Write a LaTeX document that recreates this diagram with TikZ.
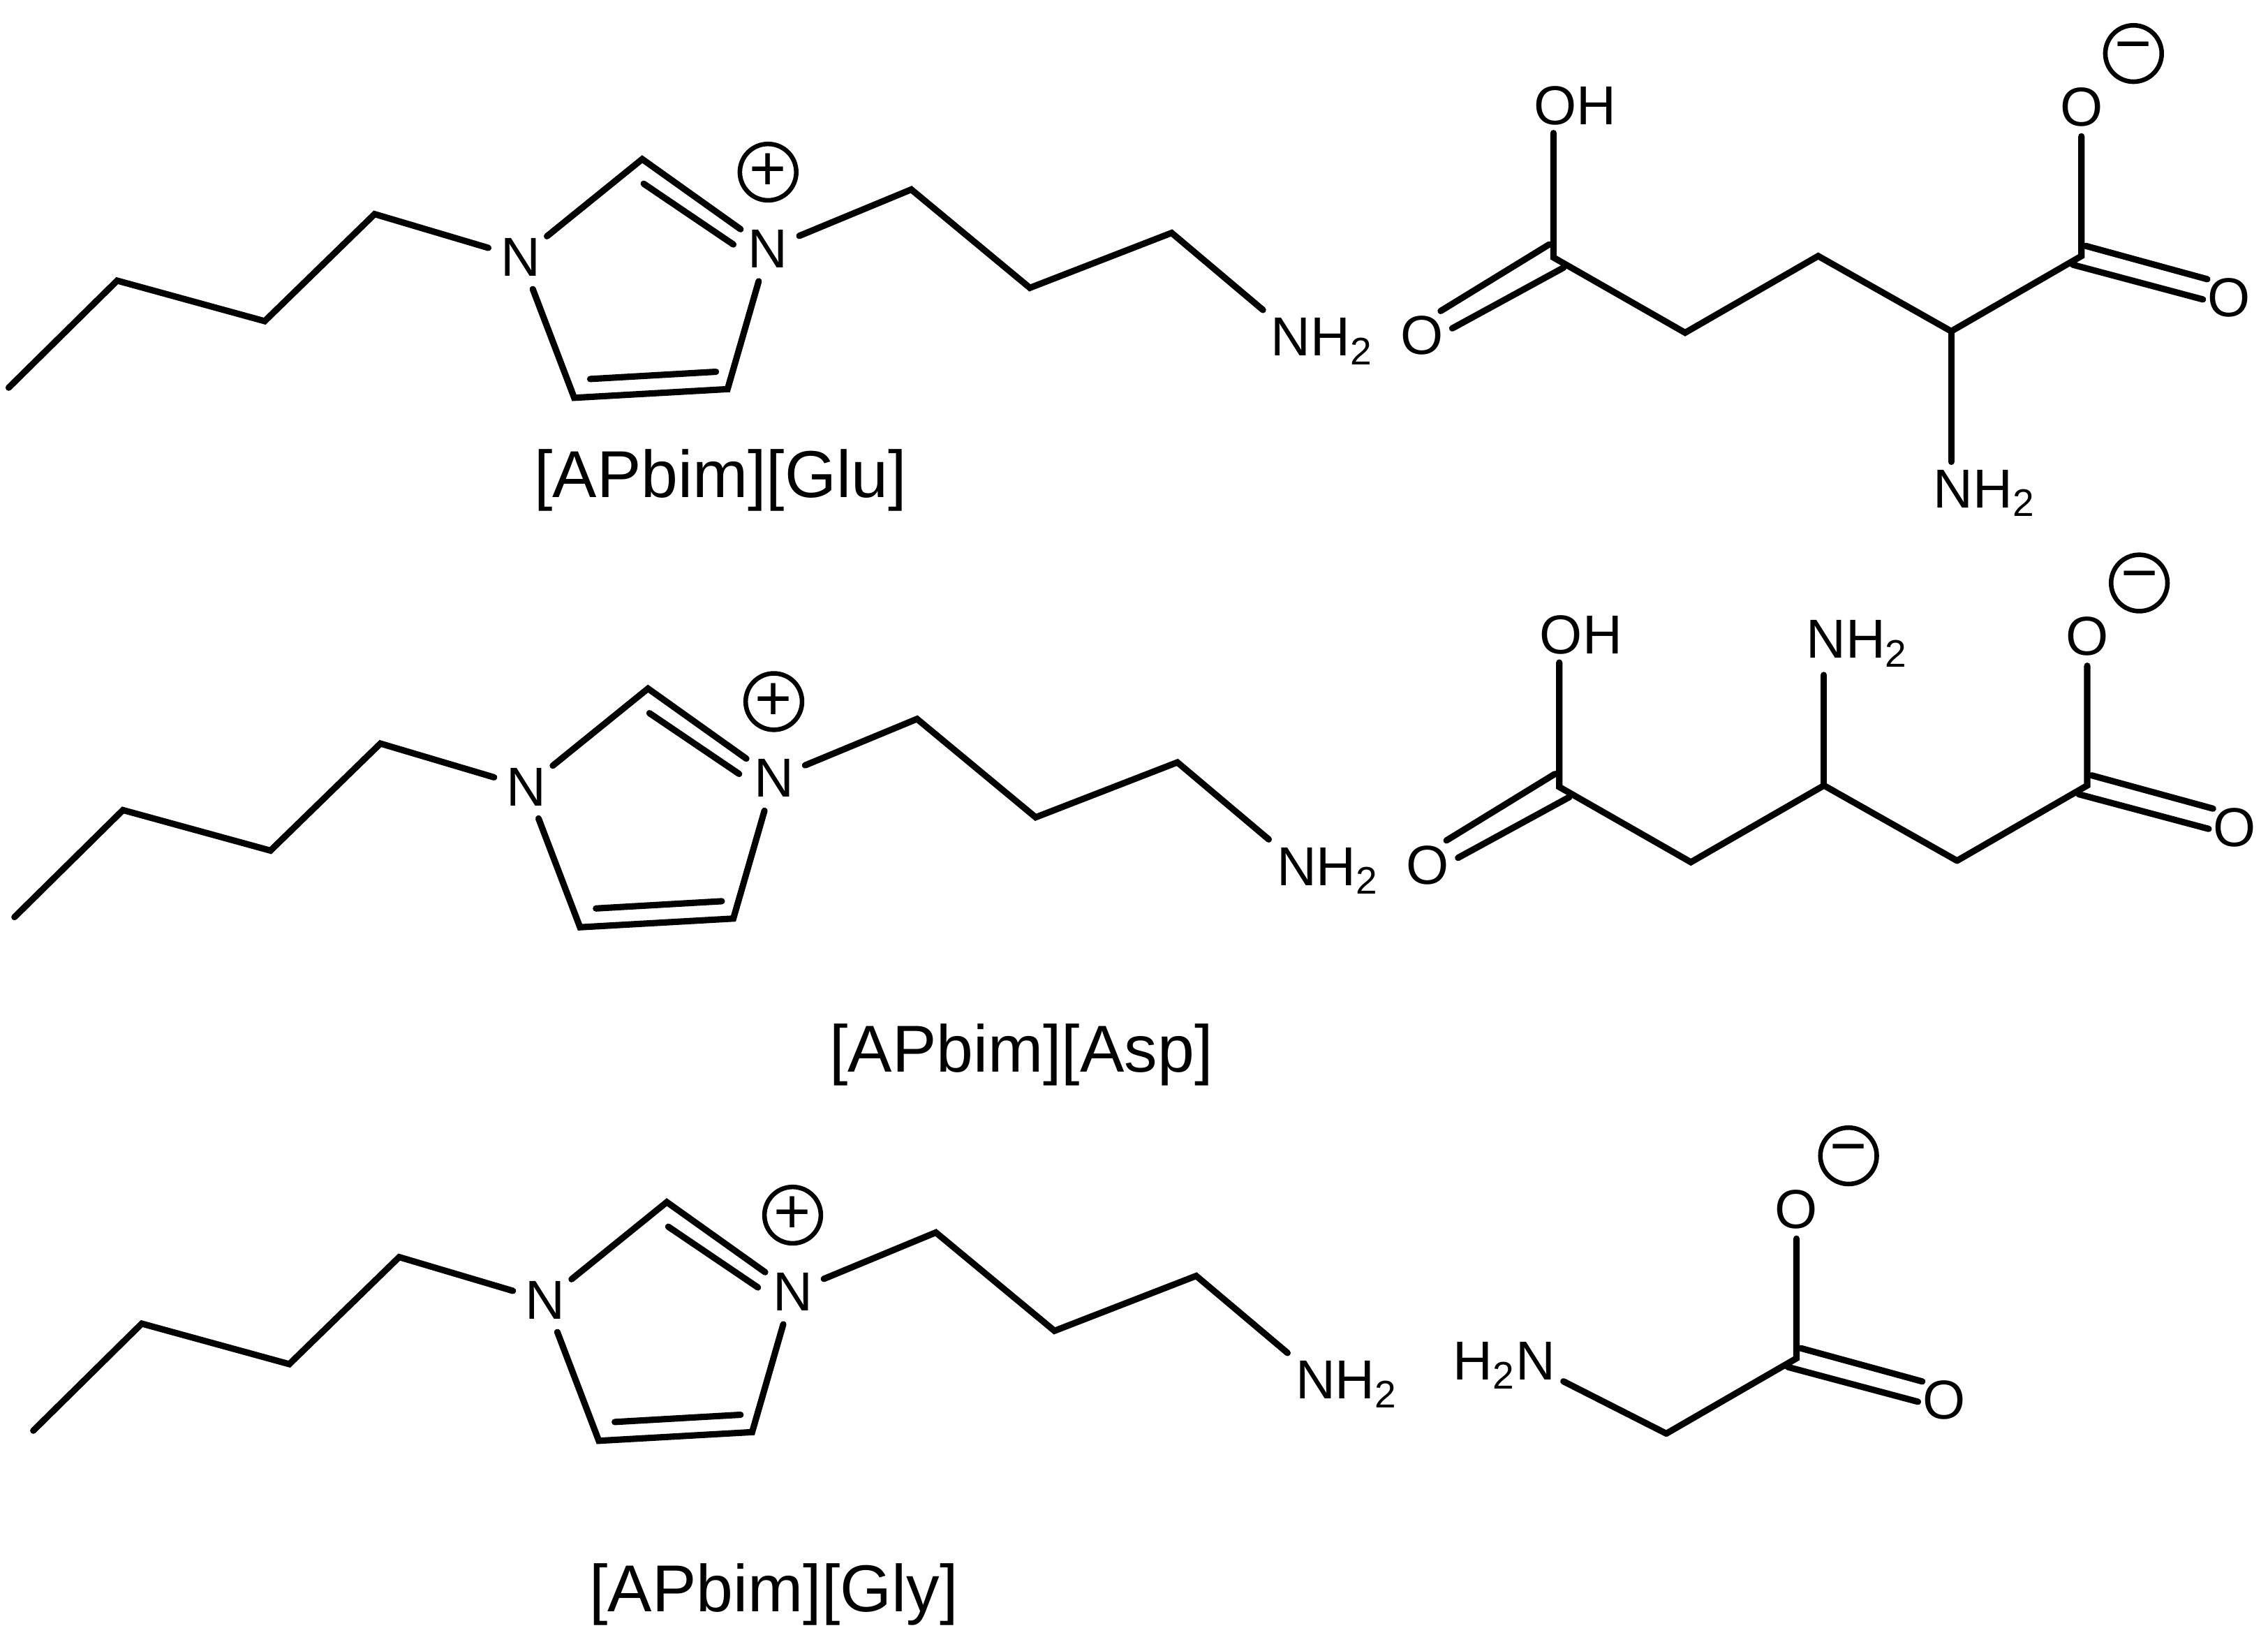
\documentclass[tikz,border=0pt]{standalone}
\usepackage{fontspec}
\setmainfont{Liberation Sans}
\begin{document}
\begin{tikzpicture}[
x=0.02cm, y=-0.02cm,
bond/.style={line width=2.5pt, line cap=round},
atom/.style={circle, inner sep=0pt, minimum size=0.72cm, font=\fontsize{21.6}{25}\selectfont},
ringatom/.style={atom, minimum size=0.92cm},
group/.style={inner sep=3pt, anchor=base, font=\fontsize{21.6}{25}\selectfont},
charge/.style={circle, draw, line width=1.8pt, inner sep=0pt, minimum size=0.78cm, font=\fontsize{25}{25}\selectfont},
title/.style={anchor=base, inner sep=0pt, font=\fontsize{26.1}{30}\selectfont}
]
\useasboundingbox (0,0) rectangle (1568,1135);

\foreach \ion/\dx/\dy in {glu/0/0, asp/4/366, gly/17/721} {
\begin{scope}[shift={(\dx,\dy)}]
\coordinate (\ion-b1) at (6,268);
\coordinate (\ion-b2) at (81,194);
\coordinate (\ion-b3) at (183,222);
\coordinate (\ion-b4) at (259,148);
\node[ringatom] (\ion-n1) at (360,178) {N};
\coordinate (\ion-c2) at (444,110);
\node[ringatom] (\ion-n3) at (531,172) {N};
\coordinate (\ion-c4) at (503,269);
\coordinate (\ion-c5) at (397,275);
\coordinate (\ion-p1) at (630,131);
\coordinate (\ion-p2) at (712,199);
\coordinate (\ion-p3) at (810,161);
\node[group] (\ion-nh) at (914,246) {NH\textsubscript{2}};
\node[charge] (\ion-plus) at (531,119) {+};
\coordinate (\ion-i1) at (445,127);
\coordinate (\ion-i2) at (507,169);
\coordinate (\ion-i3) at (408,262);
\coordinate (\ion-i4) at (495,257);
\draw[bond] (\ion-b1) -- (\ion-b2) -- (\ion-b3) -- (\ion-b4) -- (\ion-n1);
\draw[bond] (\ion-n1) -- (\ion-c2) -- (\ion-n3);
\draw[bond] (\ion-n3) -- (\ion-c4) -- (\ion-c5) -- (\ion-n1);
\draw[bond] (\ion-i1) -- (\ion-i2);
\draw[bond] (\ion-i3) -- (\ion-i4);
\draw[bond] (\ion-n3) -- (\ion-p1) -- (\ion-p2) -- (\ion-p3) -- (\ion-nh.north west);
\end{scope}
}

\foreach \ion/\dx/\dy in {glu/0/0, asp/4/366, gly/-197/762} {
\begin{scope}[shift={(\dx,\dy)}]
\coordinate (\ion-ca) at (1349,229);
\coordinate (\ion-coo) at (1439,177);
\node[atom] (\ion-om) at (1439,74) {O};
\node[charge] (\ion-minus) at (1475,37) {−};
\node[atom] (\ion-od) at (1541,206) {O};
\coordinate (\ion-d1) at (1442,170);
\coordinate (\ion-d2) at (1526,193);
\coordinate (\ion-d3) at (1433,183);
\coordinate (\ion-d4) at (1523,207);
\draw[bond] (\ion-ca) -- (\ion-coo) -- (\ion-om);
\draw[bond] (\ion-d1) -- (\ion-d2);
\draw[bond] (\ion-d3) -- (\ion-d4);
\end{scope}
}

\foreach \ion/\dx/\dy in {glu/0/0, asp/4/366} {
\begin{scope}[shift={(\dx,\dy)}]
\coordinate (\ion-ac) at (1074,178);
\coordinate (\ion-m1) at (1165,230);
\coordinate (\ion-m2) at (1257,177);
\node[group, anchor=base west] (\ion-oh) at (1055,86) {OH};
\node[atom] (\ion-ox) at (983,232) {O};
\coordinate (\ion-e1) at (1071,169);
\coordinate (\ion-e2) at (996,215);
\coordinate (\ion-e3) at (1081,185);
\coordinate (\ion-e4) at (1004,227);
\draw[bond] (\ion-oh.south -| \ion-ac) -- (\ion-ac) -- (\ion-m1) -- (\ion-m2) -- (\ion-ca);
\draw[bond] (\ion-e1) -- (\ion-e2);
\draw[bond] (\ion-e3) -- (\ion-e4);
\end{scope}
}

\node[group, anchor=base west] (glu-amine) at (1331,351) {NH\textsubscript{2}};
\draw[bond] (glu-ca) -- (glu-amine.north -| glu-ca);
\node[group, anchor=base west] (asp-amine) at (1243,455) {NH\textsubscript{2}};
\draw[bond] (asp-m2) -- (asp-amine.south -| asp-m2);
\node[group] (gly-amine) at (1040,954) {H\textsubscript{2}N};
\draw[bond] (gly-ca) -- (gly-amine.-15);

\node[title] (glu-name) at (498,344) {[APbim][Glu]};
\node[title] (asp-name) at (706,741) {[APbim][Asp]};
\node[title] (gly-name) at (535,1114) {[APbim][Gly]};
\end{tikzpicture}
\end{document}
